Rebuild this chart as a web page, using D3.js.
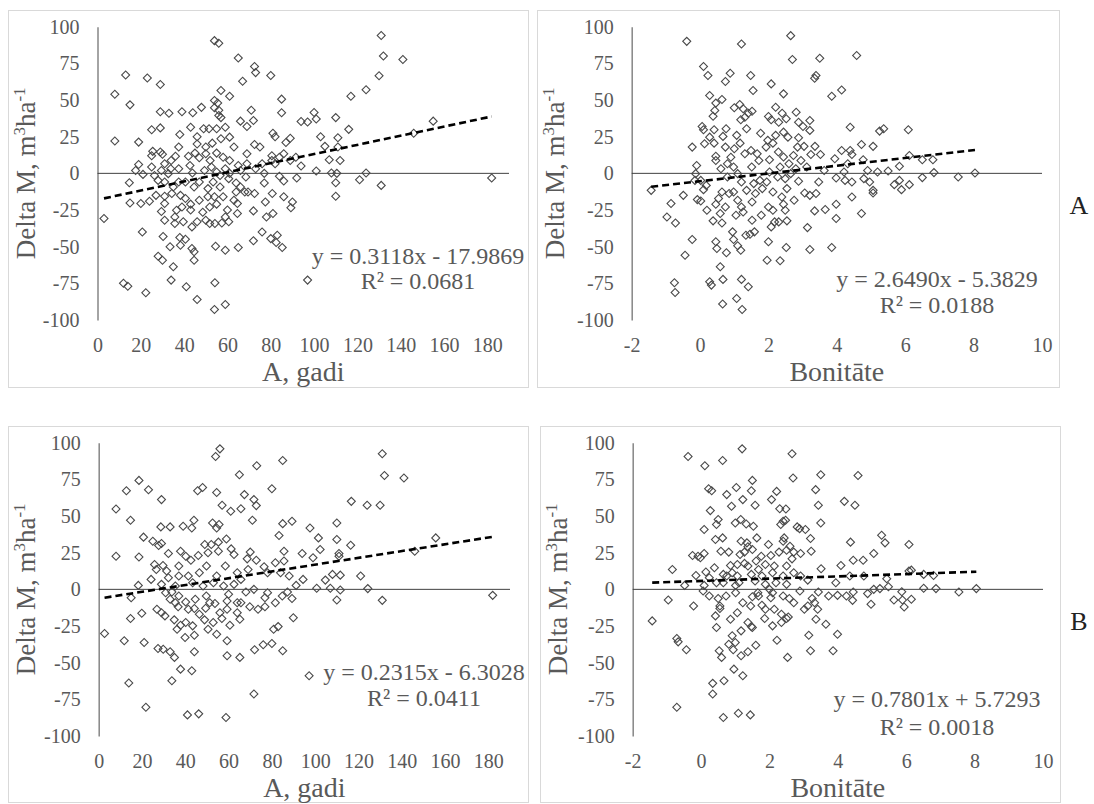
<!DOCTYPE html>
<html>
<head>
<meta charset="utf-8">
<script src="https://cdn.jsdelivr.net/npm/d3@7"></script>
<style>
body { margin: 0; background: #fff; }
text { font-family: "Liberation Serif", "Times New Roman", serif; }
</style>
</head>
<body>
<svg width="1094" height="804"></svg>
<script>

var ageTicks = [0, 20, 40, 60, 80, 100, 120, 140, 160, 180],
	bonTicks = [-2, 0, 2, 4, 6, 8, 10],
	deltaTicks = [100, 75, 50, 25, 0, -25, -50, -75, -100];

/*
	A: age (years) vs delta M
*/
var ageA = [
	[131,94],[54,90.5],[56,88.7],[132,80],[141,77.6],[65,78.7],[72.5,72.8],[73,68.7],[80,66.7],[13,67],
	[23,65],[29,60.6],[130,66.5],[67,62.8],[8,54],[57,56.5],[61,52.6],[124,57],[117,52.6],[15,46.7],
	[85,50.6],[54,49.7],[55.5,48],[48,45],[54,44.7],[56,43],[29,42],[33,41],[39,42],[44,41.3],
	[71,43],[85,41.3],[56,39.5],[57,38],[66,35.6],[72,36],[110,38],[100,41.5],[101,37],[94,35.4],
	[97,35],[155,35.6],[116,30],[43,31.5],[29,31],[25,29.7],[49,30.4],[51.5,30.4],[55,30.4],[59,31.5],
	[69,32],[146,27.4],[103,25],[111,24.3],[38,26.5],[46,25],[8,22],[19,21.3],[89,24],[81,27.4],
	[82,25],[105,18.4],[111,18],[37.5,18],[25.5,15],[29,14.5],[30,13],[25,12],[46,20],[50,18],
	[53,20.6],[57,23.6],[61,24.7],[63,18],[72.5,19.7],[75,18],[80.5,12],[86,13.4],[69,13.4],[50,13.4],
	[55,13.8],[45,13.8],[31,6.6],[19,6],[17.6,2],[25,4.3],[21,-0.7],[34,8.8],[36,11.6],[42,11.6],
	[47,10.7],[52,8.8],[58,11],[61,8.8],[65,5.4],[69,6.6],[76,6.6],[80.5,8.8],[84,11],[89,8.8],
	[94,5],[101,1.6],[108,0.2],[107,9.3],[112,8.8],[110.5,0],[110,-6.4],[110,-15.6],[121,-4.3],[124,0.2],
	[131,-8.2],[182,-3.2],[92,-3.2],[86,-5.2],[84,-2],[77,-6.6],[72.5,-13.8],[68.5,-2.5],[68,-12.7],[69.5,-12.7],
	[64,-6.6],[64,-12.7],[60.6,-3.6],[56.6,-1.4],[53.4,-5.9],[56.6,-9.3],[51,-10.4],[47,-5.9],[44.6,-9.3],[40.6,-5.9],
	[37.5,-5.9],[35,-9.3],[31,-5.9],[28,-4.8],[32.7,-0.2],[14.7,-6.4],[15,-20.2],[20,-20.6],[24,-19],[27,-15],
	[31,-15.6],[34.3,-13.8],[38.3,-15],[40.6,-17.2],[43,-21],[47,-18.4],[51.8,-23],[55,-21],[58,-16],[60,-25],
	[64.6,-20.6],[64.6,-27.4],[72,-25.6],[77.5,-19.5],[80.7,-13.8],[81,-27.4],[78,-29.7],[86,-16],[90,-19.5],[89.3,-23.4],
	[48.6,-26.5],[50,-32],[51.8,-34.2],[54.2,-34.2],[57.4,-33.8],[60.6,-33],[46,-33],[36.5,-25.2],[35.7,-29.7],[31,-32],
	[35.7,-34.2],[39.6,-33],[43.6,-36.5],[3,-30.8],[20.7,-40],[30.3,-43],[33.5,-50],[38,-43.8],[38.3,-49],[40.6,-45],
	[43.6,-51.3],[44.6,-53.5],[54.5,-49.7],[59,-52.4],[65,-50.6],[72,-46],[76,-40],[80,-44.5],[83,-42.2],[82.5,-47.2],
	[85.3,-50.6],[28,-56.5],[30,-59.2],[44.6,-59.2],[35,-63.7],[34,-72.8],[41,-77.3],[54.2,-74.6],[12,-75],[14,-77],
	[22.3,-81.4],[46,-86],[54,-92.8],[59,-89.4],[97,-72.8],
	[33.8,3.2],[37.5,3.2],[42.7,5.4],[43.8,0.2],[49.4,2],[52.6,4.3],[55,0.9],[59,3.2],[61,0],[66,2],
	[73,3.2],[77,0],[51,-16],[54,-16],[63,-18.4],[43,-25],[39,-23],[29.5,2],[26.3,-1.4],[31,-20.6],
	[29.5,-26],[59,-29.7],[66,-9.3],[87,21],[91.6,11],[82,6.6]
];

/*
	A: site class vs delta M
*/
var bonA = [
	[-0.39,90],[1.21,88.2],[2.65,93.9],[4.58,80.3],[2.7,77.6],[3.5,78.5],[0.1,72.8],[0.23,66.7],[0.88,68.3],[0.74,62.6],
	[1.48,66.7],[2.08,61],[3.39,66.7],[3.35,64.9],[1.55,56.5],[2.44,54.2],[0.28,53.1],[0.64,50.3],[0.46,47.9],[1.16,46.9],
	[1,44.7],[1.26,44],[1.52,42.4],[0.43,42.9],[0.38,39],[2.21,45.1],[2.4,41],[2.81,41.7],[2,38.8],[1.41,41],
	[1.19,36.5],[1.31,38.3],[2.08,36.5],[2.3,34.9],[2.52,37.2],[2.88,34.9],[3.21,36.1],[3.01,32],[3.85,52.6],[4.14,56.9],
	[0.06,32],[0.1,29.7],[0.41,29.7],[0.76,30.4],[1.36,30.4],[1.77,27.4],[1.07,25.9],[0.67,25.2],[0.28,24.7],[0.13,20.2],
	[-0.23,17.9],[0.41,20.6],[0.74,17.9],[1,16.8],[1.17,20.6],[1.31,13.4],[1.49,15.6],[1.67,13.4],[1.98,22.5],[2.13,20.6],
	[2.21,25.9],[2.44,28.1],[2.57,24.7],[2.88,24.3],[2.73,12.2],[2.29,14.5],[2.03,9.3],[2.44,11.1],[3.21,29.3],[3.36,18.4],
	[3.04,18.4],[3.52,12.9],[3.24,12.9],[4.39,31.5],[4.14,15.6],[4.39,15.6],[4.44,12.9],[4.72,19.7],[5.06,18.4],[5.25,28.8],
	[5.37,30.4],[6.09,29.7],[6.12,12.2],[6.5,9.3],[6.81,9.3],[4.77,9.3],[4.32,6.6],[4.9,2],[5.19,0.9],[5.5,1.6],
	[5.83,4.8],[6.84,0.5],[7.55,-2.5],[8.04,0.2],[6.5,-2.9],[6.12,-7.7],[5.89,-11.1],[5.83,-4.8],[5.68,-7.7],[5.06,-11.6],
	[5.06,-13.4],[4.96,-5.9],[4.79,-3.6],[4.44,-5.9],[4.24,-4.8],[4.21,0.9],[3.98,-3.2],[4.44,-16.1],[4.72,-27.4],[3.98,-21.1],
	[3.66,-24.7],[3.47,-5.9],[3.39,-13.8],[3.21,-15],[3.06,-13.4],[2.88,-5.4],[3.35,-25.6],[3.14,-37],[3.21,-51.9],[3.85,-50.6],
	[3.98,-30.8],[2.65,-0.2],[2.49,-3.6],[2.27,-2.5],[2.03,0.9],[1.95,-5.9],[1.75,-4.8],[1.57,-7],[1.62,-13.8],[1.52,-19.5],
	[1.21,-5.9],[1.1,-0.2],[0.98,4.3],[0.8,6.6],[0.61,3.2],[0.46,8.8],[0.46,11.6],[-0.1,5.4],[-0.13,-0.2],[0.02,-4.8],
	[-0.15,-4.8],[0.1,-11.1],[-0.08,-17.9],[0.02,-18.8],[-0.49,-15],[-1.43,-11.6],[-0.85,-20.6],[-0.72,-33.8],[-0.97,-29.7],[-0.23,-45.1],
	[-0.44,-55.8],[-0.75,-74.6],[-0.73,-81.2],[0.2,-25.2],[0.38,-32.4],[0.46,-21.1],[0.64,-12.7],[0.54,-17.2],[0.74,-22.9],[0.59,-27.4],
	[0.64,-33.8],[0.46,-46.7],[0.49,-51.3],[0.77,-54.2],[0.95,-39.9],[0.98,-45.1],[1.1,-49.4],[1.19,-52.4],[1.05,-28.6],[1.21,-22.9],
	[1.26,-26.3],[0.98,-12.7],[0.85,-13.8],[1.52,-32],[1.34,-42.2],[1.46,-41.5],[1.59,-39.9],[1.79,-28.6],[2,-22.9],[2.13,-25.2],
	[2.08,-36.5],[2.18,-33.1],[2.39,-16.1],[2.44,-21.1],[2.49,-25.2],[2.54,-32.4],[2.3,-33.1],[2,-46.7],[1.96,-59.2],[2.34,-59.6],
	[2.52,-50.6],[0.59,-63.7],[0.28,-73.9],[0.33,-76.2],[0.67,-72.3],[1.21,-72.3],[1.41,-77.3],[0.66,-89.1],[1.07,-85.3],[1.23,-92.8],
	[1.72,8.8],[1.51,4.3],[2.34,4.3],[2.6,6.6],[2.8,3.2],[2.95,8.8],[1.82,-10.4],[2.13,-12.7],[2.54,-10.4],[2.75,-18.4],
	[1.1,-18.4],[1.36,-11.6],[0.8,-2.5],[0.18,-8.2],[3.12,4.3],[3.63,2],[3.94,10],[2.85,17.9],[1.93,17.9],[0.9,11]
];

/*
	B: age (years) vs delta M
*/
var ageB = [
	[56,95.8],[54,90.6],[131,92.4],[85,87.9],[73,84.3],[65,78.1],[132,77.7],[141,75.9],[18.6,74.3],[12.8,67.3],
	[23,67.9],[48,69.5],[45.7,67.3],[54.5,66.1],[80,68.6],[67.3,64.6],[71.7,61.2],[72.8,57.1],[29,61.2],[116.7,60],
	[124,57.3],[130,57.3],[57,57.3],[61,53.2],[65.7,55],[8,54.8],[14.7,47.1],[71,47.1],[85,44.8],[89.3,46.4],
	[110,45.3],[44,47.1],[43,41.9],[52.6,45.3],[55.6,44.2],[54.5,41.9],[28.7,42.6],[33,42.6],[39,43],[97.6,41.9],
	[83.3,36.7],[101.5,35.1],[110,34],[155.7,35.1],[116.4,30.1],[20.7,35.6],[25,32.8],[29,31.3],[27.7,29.9],[49,30.6],
	[52,30.6],[59,34.4],[55.3,32.2],[61.2,27.6],[62.5,23.8],[146,26],[102.3,27.2],[94,24.5],[99,21.5],[111,24.5],
	[111,22.6],[85.6,26],[70,25.4],[8,22.6],[18.6,22],[32.2,24.5],[37.8,26],[40.2,22.6],[46,23.1],[50.5,24.9],
	[42.6,19.9],[55.3,26],[68.6,20.8],[72.8,19.9],[81.6,18.1],[85.6,19.3],[76.4,15.4],[25.8,17],[29.7,16.3],[37,15.9],
	[31.4,12.5],[49.8,15.9],[58.5,15.9],[64,11.3],[69,13.6],[78,11.3],[84,11.3],[88,9.1],[46.5,11.3],[41.4,9.1],
	[121,9.1],[108,10.2],[111.6,9.7],[104.7,6.3],[94.4,6.8],[91.2,2.7],[100.7,0.7],[107,0.7],[111.6,-0.5],[124.3,0.5],
	[110,-7.2],[131,-7.5],[182,-4.1],[89.3,-6.3],[84.8,-4.5],[87.2,-1.8],[78,-2.3],[76.8,-5.7],[71.7,0],[76.8,-11.8],
	[69.8,-11.8],[68,-1.8],[64,-9.1],[60,-3.4],[59.3,-7.9],[59.3,-13.6],[53.7,-9.7],[49.7,-4.5],[49.4,-12.9],[44.6,-6.8],
	[44.2,-13.1],[41.4,-13.6],[40.2,-8.6],[37,-4.5],[33.8,-1.8],[30.9,-2.3],[35.4,-9.1],[36.7,-11.8],[33,-6.8],[18.3,2.7],
	[15,-5.7],[14.7,-19.9],[19.9,-16.3],[26.9,-13.6],[29,-15.9],[30.6,-18.1],[34.9,-20.8],[36.2,-27.2],[37.8,-24.5],[39.9,-32.8],
	[44.2,-31.3],[46.5,-17],[48.9,-20.8],[50.5,-27.2],[54.5,-30.6],[56.9,-19.9],[60.6,-24.5],[59.3,-35.1],[65.2,-20.4],[65.2,-46.4],
	[59.3,-45.3],[72,-41.2],[76,-37.8],[80,-36.9],[80.8,-27.2],[82.9,-25.4],[85,-41.9],[89.9,-19.3],[2.7,-30.1],[11.8,-35.1],
	[21,-36.2],[27.4,-40.3],[29.8,-40.8],[33,-42.6],[35,-46.4],[37.8,-54.4],[43,-55.5],[44.2,-42.6],[33.8,-62.3],[13.9,-63.9],
	[97.2,-58.9],[71.7,-71.3],[21.8,-80.4],[41,-85.6],[46.2,-84.9],[58.8,-87.4],
	[29,3.4],[35.4,2.3],[43.4,4.5],[48.2,2.3],[53,4.5],[57.7,2.3],[62.5,3.4],[65.7,6.8],[54.5,9.1],[37,9.1],
	[32.2,7.9],[40.2,-22.6],[43.4,-24.9],[52.9,-22.6],[56,-15.9],[64,-15.9],[65.7,-9.1],[51.3,-9.1],[73.6,-13.6],[81.6,-9.1],
	[24.2,6.8],[26.6,13.6]
];

/*
	B: site class vs delta M
*/
var bonB = [
	[1.2,95.8],[-0.38,90.6],[2.66,92.4],[0.63,87.9],[0.11,84.3],[3.5,78.1],[4.59,77.7],[2.69,75.9],[1.5,74.3],[0.22,68.6],
	[0.31,67.3],[1.03,69.5],[1.47,67.3],[0.75,64.6],[2.21,66.8],[3.35,68],[1.22,61.2],[2.06,61.2],[4.19,60],[4.5,57.3],
	[3.43,57.3],[1.58,57.3],[0.89,56.6],[2.3,55],[2.48,54.8],[0.27,53.7],[1.16,47.6],[0.5,47.6],[0.45,44.2],[1,45.3],
	[1.32,44.6],[1.53,43],[2.4,46.4],[2.47,47.1],[2.33,44.2],[2.81,42.6],[3.05,40.8],[2.88,41.4],[3.5,45.3],[0.09,40.8],
	[0.63,35.1],[0.42,34],[1.17,32.8],[1.34,31.7],[1.63,35.1],[2.43,35.1],[3.2,34.7],[2.4,32.8],[1.37,29],[1.97,30.6],
	[2.6,29.4],[2.91,24.5],[3.22,26],[4.37,32.2],[5.28,36.9],[5.38,31.7],[6.08,30.6],[5.05,24.5],[4.45,19.9],[4.74,19.9],
	[4.09,16.3],[-0.25,23.1],[-0.09,22.6],[0.09,24.5],[-0.02,21.5],[0.58,26],[0.81,25.4],[1.14,23.8],[1.27,25.4],[1.5,27.2],
	[1.76,22.6],[2.04,23.1],[2.28,25.4],[2.5,26.7],[2.71,25.4],[2.66,20.8],[-0.84,13.6],[0.39,14.7],[0.86,16.3],[1.06,17],
	[1.27,17.7],[1.61,19.3],[1.88,17],[2.14,15.9],[2.5,15.9],[3.51,14],[-0.15,9.5],[0.14,11.8],[0.65,10.2],[0.91,11.3],
	[1.47,10.2],[1.78,9.1],[2.4,9.1],[3.12,6.3],[3.94,4.5],[4.35,9.1],[4.76,9.1],[5.43,7.2],[6.08,12.5],[6.15,13.1],
	[6.51,10.2],[6.8,9.5],[-0.48,2.7],[0.09,2.7],[0.45,4.5],[0.65,4.5],[1.01,2.7],[1.11,4.5],[1.58,5.7],[1.88,3.4],
	[2,0],[2.19,4.5],[2.5,3.4],[6.51,0.7],[6.87,0.5],[7.54,-1.8],[8.05,0.5],[5.87,-1.6],[5.48,1.8],[5.23,0.5],
	[5.05,0],[4.87,-2.9],[4.97,-10.2],[5.64,-7.2],[5.89,-7.2],[5.94,-12],[6.15,-6.8],[4.45,-1.8],[4.43,-7.5],[4.25,-4.5],
	[3.99,-4.1],[3.43,-1.8],[3.25,-6.3],[3.32,-9.1],[3.41,-13.6],[3.36,-20.4],[3.65,-23.8],[3.99,-30.6],[3.86,-41.9],[3.2,-41.9],
	[3.15,-31.3],[3.02,-13.6],[2.89,-1.1],[2.58,-6.3],[2.55,-18.8],[2.5,-19.9],[2.53,-46.4],[2.22,-34.7],[2.35,-22.6],[2.35,-17],
	[2.14,-13.6],[1.86,-19.9],[1.78,-10.9],[2.04,-5.7],[1.66,-2.3],[1.5,-5],[1.45,-11.3],[1.5,-26],[1.47,-25.4],[1.6,-38.1],
	[1.37,-42.6],[1.17,-45.3],[1.22,-58.9],[1.17,-28.3],[0.91,-31.7],[1,-36.2],[0.81,-37.4],[0.94,-41.2],[0.96,-54.4],[0.67,-62.3],
	[0.34,-64.1],[0.34,-71.3],[1.09,-84.5],[1.44,-85.6],[0.65,-87.4],[0.6,-46.4],[0.53,-41.9],[0.45,-26],[0.42,-18.1],[0.55,-13.1],
	[0.55,-11.3],[0.5,-6.3],[0.73,-4.5],[1.01,-2.3],[1.22,-9.1],[-0.22,-11.3],[0.06,-1.1],[-0.96,-7.2],[-1.43,-21.5],[-0.71,-33.5],
	[-0.67,-35.8],[-0.43,-41.2],[-0.71,-80.4],
	[1.37,15.9],[1.68,13.6],[2.09,11.3],[2.71,11.3],[2.91,9.1],[1.06,9.1],[0.75,9.1],[0.24,7.9],[1.68,-4.5],[2.09,-2.3],
	[2.4,-4.5],[2.71,-9.1],[1.88,-13.6],[1.06,-15.9],[1.37,-22.6],[0.86,-20.4],[2.09,-24.9],[3.12,-11.3],[3.73,-4.5],[0.24,-4.5]
];

// slope, intercept of the linear fits
var fitAgeA = [0.3118, -17.9869],
	fitBonA = [2.6490, -5.3829],
	fitAgeB = [0.2315, -6.3028],
	fitBonB = [0.7801, 5.7293];

var eqText = ['y = 0.3118x - 17.9869', 'y = 2.6490x - 5.3829', 'y = 0.2315x - 6.3028', 'y = 0.7801x + 5.7293'],
	r2Text = ['R² = 0.0681', 'R² = 0.0188', 'R² = 0.0411', 'R² = 0.0018'],
	xTitles = ['A, gadi', 'Bonitāte', 'A, gadi', 'Bonitāte'],
	rowLabels = ['A', 'B'];


var svg = d3.select('svg');

var panels = [
	{ pts: ageA, fit: fitAgeA, dom: [0, 190], ticks: ageTicks, frame: [8.5, 10.5, 520, 377], x0: 97.5, x1: 509, y0: 26.7, y1: 320, eq: [418, 264, 289] },
	{ pts: bonA, fit: fitBonA, dom: [-2, 10], ticks: bonTicks, frame: [537.5, 10.5, 522, 377], x0: 631.7, x1: 1042, y0: 26.7, y1: 320, eq: [937, 287, 313] },
	{ pts: ageB, fit: fitAgeB, dom: [0, 190], ticks: ageTicks, frame: [8.5, 426.5, 520, 376], x0: 98.7, x1: 510, y0: 442.7, y1: 736, eq: [424, 680, 706] },
	{ pts: bonB, fit: fitBonB, dom: [-2, 10], ticks: bonTicks, frame: [540.5, 426.5, 520, 376], x0: 632.7, x1: 1043, y0: 442.7, y1: 736, eq: [937, 707, 735] }
];

var diamond = d3.symbol().type(d3.symbolSquare).size(32),
	serif = '"Liberation Serif", "Times New Roman", serif',
	plain = function (d) { return String(d); };

panels.forEach(function (p, i) {

	var g = svg.append('g'),
		x = d3.scaleLinear().domain(p.dom).range([p.x0, p.x1]),
		y = d3.scaleLinear().domain([-100, 100]).range([p.y1, p.y0]);

	g.append('rect')
		.attr('x', p.frame[0]).attr('y', p.frame[1])
		.attr('width', p.frame[2]).attr('height', p.frame[3])
		.style('fill', 'none').style('stroke', '#d9d9d9');

	/*
		axes
	*/
	var yAxis = g.append('g')
		.attr('transform', 'translate(' + p.x0 + ',0)')
		.call(d3.axisLeft(y).tickValues(deltaTicks).tickFormat(plain).tickSize(0).tickSizeOuter(0).tickPadding(18));
	yAxis.attr('font-family', serif);
	yAxis.select('.domain').style('stroke', '#868686').style('stroke-width', 1.5);
	yAxis.selectAll('text').style('font-size', '20px').style('fill', '#595959');

	var xAxis = g.append('g')
		.attr('transform', 'translate(0,' + p.y1 + ')')
		.call(d3.axisBottom(x).tickValues(p.ticks).tickFormat(plain).tickSize(0).tickPadding(18));
	xAxis.attr('font-family', serif);
	xAxis.select('.domain').remove();
	xAxis.selectAll('text').style('font-size', '20px').style('fill', '#595959');

	g.append('line')
		.attr('x1', x(p.dom[0])).attr('x2', x(p.dom[1]))
		.attr('y1', y(0)).attr('y2', y(0))
		.style('stroke', '#404040').style('stroke-width', 1);

	/*
		points
	*/
	g.selectAll('path.pt').data(p.pts).enter().append('path')
		.attr('class', 'pt')
		.attr('d', diamond)
		.attr('transform', function (d) { return 'translate(' + x(d[0]) + ',' + y(d[1]) + ') rotate(45)'; })
		.style('fill', 'none').style('stroke', '#4a4a4a').style('stroke-width', 1.1);

	/*
		trend line
	*/
	var ext = d3.extent(p.pts, function (d) { return d[0]; });
	g.append('path')
		.datum(ext)
		.attr('d', d3.line().x(function (d) { return x(d); }).y(function (d) { return y(p.fit[0] * d + p.fit[1]); }))
		.style('fill', 'none').style('stroke', '#000').style('stroke-width', 2.6).style('stroke-dasharray', '7,4');

	g.append('text').attr('x', p.eq[0]).attr('y', p.eq[1])
		.attr('text-anchor', 'middle').style('font-size', '24px').style('fill', '#595959')
		.text(eqText[i]);
	g.append('text').attr('x', p.eq[0]).attr('y', p.eq[2])
		.attr('text-anchor', 'middle').style('font-size', '24px').style('fill', '#595959')
		.text(r2Text[i]);

	/*
		titles
	*/
	g.append('text')
		.attr('x', (p.x0 + p.x1) / 2).attr('y', p.y1 + 61)
		.attr('text-anchor', 'middle').style('font-size', '28px').style('fill', '#595959')
		.text(xTitles[i]);

	var yt = g.append('text')
		.attr('transform', 'translate(' + (p.frame[0] + 26.5) + ',' + ((p.y0 + p.y1) / 2) + ') rotate(-90)')
		.attr('text-anchor', 'middle').style('font-size', '27px').style('fill', '#595959');
	yt.append('tspan').text('Delta M, m');
	yt.append('tspan').attr('dy', -10).style('font-size', '17px').text('3');
	yt.append('tspan').attr('dy', 10).text('ha');
	yt.append('tspan').attr('dy', -10).style('font-size', '17px').text('-1');

	if (i % 2 === 1) {
		svg.append('text').attr('x', 1079).attr('y', p.y1 - 106)
			.attr('text-anchor', 'middle').style('font-size', '26px').style('fill', '#222')
			.text(rowLabels[(i - 1) / 2]);
	}
});

</script>
</body>
</html>
